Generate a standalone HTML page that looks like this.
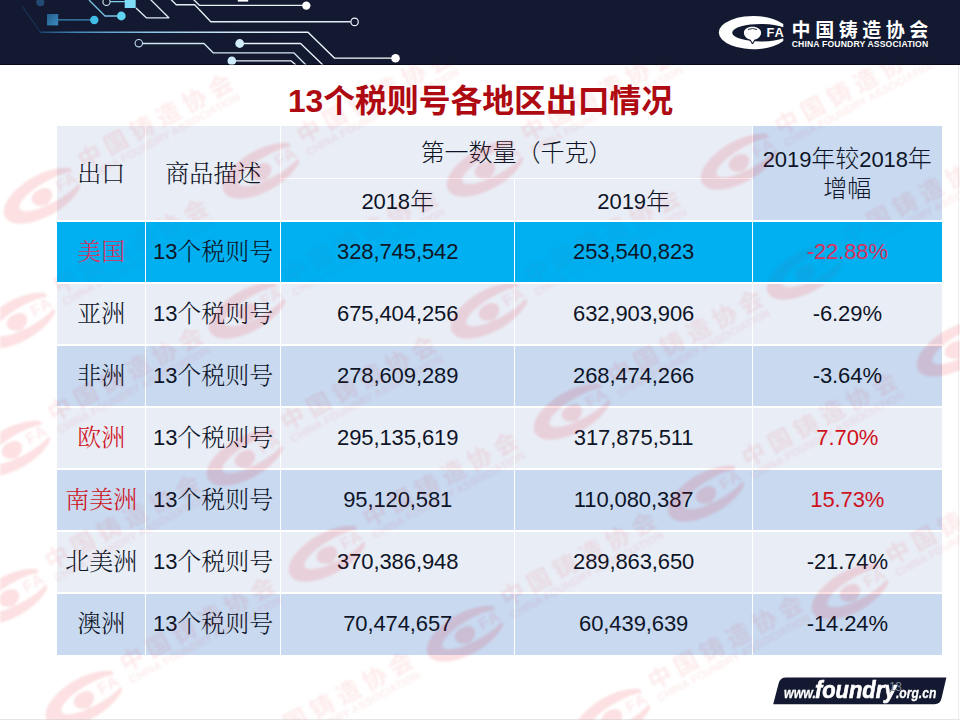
<!DOCTYPE html>
<html lang="zh-CN">
<head>
<meta charset="utf-8">
<title>13个税则号各地区出口情况</title>
<style>
html,body{margin:0;padding:0;}
body{width:960px;height:720px;overflow:hidden;background:#fff;position:relative;
  font-family:"Liberation Sans","Noto Sans CJK SC",sans-serif;}
#slide{position:absolute;left:0;top:0;width:960px;height:720px;overflow:hidden;background:#fff;}
#topbar{position:absolute;left:0;top:0;width:960px;height:64.5px;background:#121930;box-shadow:inset 0 -1px 0 #080c1e;}
#circuit{position:absolute;left:0;top:0;}
#logo{position:absolute;left:700px;top:0;}
#title{position:absolute;left:0.5px;top:78.5px;width:960px;text-align:center;font:bold 31.8px/44px "Liberation Sans","Noto Sans CJK SC",sans-serif;color:#ad0a12;white-space:nowrap;}
/* table */
#tbl,#tbl2{position:absolute;left:57px;top:126px;width:885px;height:529px;}
#tbl2{pointer-events:none;}
.hlo{background:rgba(0,176,240,.62);}
.c.red2{color:#d8325e;}
.c{position:absolute;box-sizing:border-box;display:flex;align-items:center;justify-content:center;text-align:center;
  font-size:24px;line-height:29px;color:#0e1528;white-space:nowrap;}
.h1{background:#e9edf6;}
.h2{background:#c8d9f0;}
.ra{background:#e9edf6;}
.rb{background:#c8d9f0;}
.hl{background:#00b0f0;}
.song{font-family:"Liberation Sans","Noto Serif CJK SC",serif;font-weight:300;}
.deng{font-family:"Liberation Sans","Noto Sans CJK SC",sans-serif;font-weight:300;}
.n{font-family:"Liberation Sans",sans-serif;font-size:22px;letter-spacing:-.1px;}
.c.red{color:#cf1220;}
.vl,.hline{position:absolute;background:#fff;}
#foot{position:absolute;}
.ft{position:absolute;color:#fff;font-family:"Liberation Sans",sans-serif;font-weight:bold;font-style:italic;white-space:nowrap;transform-origin:0 100%;}
#ft1{left:784px;top:683.5px;font-size:15.5px;line-height:18px;transform:scaleX(.80);-webkit-text-stroke:.3px #fff;}
#ft2{left:815px;top:675.5px;font-size:24px;line-height:28px;transform:scaleX(.91);-webkit-text-stroke:.7px #fff;}
#ft3{left:895.5px;top:683.5px;font-size:15.5px;line-height:18px;transform:scaleX(.78);-webkit-text-stroke:.3px #fff;}
#pg{position:absolute;left:889px;top:680px;font:12px/14px "Liberation Sans",sans-serif;color:#7e8591;letter-spacing:-.5px;}
#wm{position:absolute;left:0;top:0;pointer-events:none;filter:blur(.8px);}
#edgeR{position:absolute;left:957.5px;top:64.5px;width:1.2px;height:656px;background:#ededed;}
#edgeB{position:absolute;left:0;top:719px;width:960px;height:1px;background:#e6e6e6;}
</style>
</head>
<body>
<div id="slide">
  <div id="topbar"></div>
  <svg id="circuit" width="440" height="65" viewBox="0 0 440 65">
  <defs>
    <linearGradient id="gl" x1="0" y1="0" x2="1" y2="0">
      <stop offset="0" stop-color="#1c466f"/><stop offset="0.1" stop-color="#3f84b6"/><stop offset="0.3" stop-color="#86c2e4"/><stop offset="0.55" stop-color="#d2e9f6"/><stop offset="1" stop-color="#ffffff"/>
    </linearGradient>
    <linearGradient id="gs" x1="0" y1="0" x2="1" y2="1">
      <stop offset="0" stop-color="#245d8a"/><stop offset="1" stop-color="#3a8cc2"/>
    </linearGradient>
    <clipPath id="cc"><rect x="0" y="0" width="440" height="64.5"/></clipPath>
  </defs>
  <g clip-path="url(#cc)" fill="none" stroke-width="1.35" stroke-linejoin="round">
    <!-- faint left diagonal into long line -->
    <path d="M22 6 L40.5 32.3" stroke="#1b3b60" stroke-width="1"/>
    <path d="M40.5 32.3 H308 L334.4 58.1 H392" stroke="url(#gl)" stroke-width="1.4"/>
    <circle cx="395.5" cy="58.2" r="4.3" fill="#ffffff" stroke="none"/>
    <!-- dim circle -->
    <circle cx="40.3" cy="2.3" r="4" fill="#234a73" stroke="none"/>
    <!-- square + line + cyan circle -->
    <rect x="47" y="14" width="11.2" height="11.4" fill="url(#gs)" stroke="none"/>
    <path d="M58 19.8 H91" stroke="#3b8abf" stroke-width="1.2"/>
    <circle cx="94.3" cy="20" r="4.2" fill="#43bde8" stroke="none"/>
    <!-- cyan circle with trace up-left -->
    <path d="M118 16 H105 L89 0" stroke="#79c4e4"/>
    <circle cx="121.3" cy="16" r="4.4" fill="#5fd3f0" stroke="none"/>
    <!-- ring + line + light square -->
    <circle cx="106.5" cy="1.9" r="3.6" stroke="#d6ecf7" stroke-width="1.1"/>
    <path d="M110.3 1.6 H125" stroke="#7fd0ee"/>
    <rect x="124.7" y="-1" width="11" height="9" fill="#7edcf6" stroke="none"/>
    <!-- parallelogram outline -->
    <path d="M150 -1 L168.8 17.8 H146.3 L136 7.9" stroke="#dbe9f2"/>
    <!-- top traces -->
    <path d="M170.5 -1 L176.2 4.7 H194.7 L210.8 21.7 H350.6" stroke="#e3eef6"/>
    <circle cx="354.6" cy="21.9" r="3.7" stroke="#f2f7fb" stroke-width="1.2"/>
    <path d="M193 -1 L199.4 5.3 H303" stroke="#e6f0f7"/>
    <circle cx="306.3" cy="5.6" r="4.2" fill="#ffffff" stroke="none"/>
    <rect x="237.8" y="-1" width="10.4" height="2.6" fill="#ffffff" stroke="none"/>
    <!-- ring with trace -->
    <circle cx="138.8" cy="43.2" r="3.7" stroke="#bfe2f3" stroke-width="1.1"/>
    <path d="M142.6 43.5 H204 L213.4 52.9 H294 L306 65" stroke="#d3e8f4"/>
    <!-- pale circles with traces -->
    <path d="M243 43.5 H300.6 L323 65" stroke="#eaf3f9"/>
    <circle cx="239.7" cy="43.5" r="4.4" fill="#d3eefb" stroke="none"/>
    <path d="M235 60.9 H291.2 L296 65" stroke="#eaf3f9"/>
    <circle cx="231.8" cy="60.9" r="4.3" fill="#cdebfa" stroke="none"/>
  </g>
</svg>

  <svg id="logo" width="260" height="65" viewBox="700 0 260 65">
<g transform="translate(751 32.4)" fill="#fff">
<path fill-rule="evenodd" d="M32.3 -8.3 A34.7 16.6 0 1 0 32.3 8.7 Z M32.3 -5.2 A28.8 8.7 0 1 0 32.3 5.8 Z"/>
<path d="M1.5 10.6 L-0.4 7.4 C-4.6 6.3 -7.1 3.5 -7.1 0.3 C-7.1 -3.2 -3.4 -5.6 1.5 -5.6 C6.4 -5.6 10.1 -3.2 10.1 0.3 C10.1 3.5 7.6 6.3 3.4 7.4 Z" fill="#121930" stroke="#121930" stroke-width="2" stroke-linejoin="round"/>
<path d="M1.5 10.4 L-0.4 7.4 C-4.6 6.3 -7.1 3.5 -7.1 0.3 C-7.1 -3.2 -3.4 -5.6 1.5 -5.6 C6.4 -5.6 10.1 -3.2 10.1 0.3 C10.1 3.5 7.6 6.3 3.4 7.4 Z"/>
<path d="M-3 -2.9 Q1.5 -4.9 6 -2.9" fill="none" stroke="#121930" stroke-width="0.9"/>
<text x="15.4" y="4.1" font-family="Liberation Sans, sans-serif" font-weight="bold" font-size="12.8" letter-spacing="0.9">FA</text>
<text x="40.6" y="4.1" font-family="Liberation Sans, Noto Sans CJK SC, sans-serif" font-weight="bold" font-size="19" letter-spacing="4.55">中国铸造协会</text>
<text x="40.7" y="14.2" font-family="Liberation Sans, sans-serif" font-weight="bold" font-size="8.6" letter-spacing="0.17">CHINA FOUNDRY ASSOCIATION</text>
</g>
</svg>
  <div id="title">13个税则号各地区出口情况</div>
  <div id="tbl">
<div class="c h1 song" style="left:0px;top:0px;width:88.7px;height:95px;">出口</div>
<div class="c h1 song" style="left:88.7px;top:0px;width:135px;height:95px;">商品描述</div>
<div class="c h1 deng" style="left:223.7px;top:0px;width:471.9px;height:52.5px;">第一数量（千克）</div>
<div class="c h1 deng" style="left:223.7px;top:52.5px;width:234px;height:42.5px;padding-top:2.5px;"><span class="n">2018</span>年</div>
<div class="c h1 deng" style="left:457.7px;top:52.5px;width:237.9px;height:42.5px;padding-top:2.5px;"><span class="n">2019</span>年</div>
<div class="c h2 deng" style="left:695.6px;top:0px;width:189.4px;height:95px;"><span><span class="n">2019</span>年较<span class="n">2018</span>年<br>增幅</span></div>
<div class="c hl" style="left:0px;top:95px;width:885px;height:61.97px;"></div>
<div class="c ra song" style="left:0px;top:156.97px;width:88.7px;height:61.97px;">亚洲</div>
<div class="c ra song" style="left:88.7px;top:156.97px;width:135px;height:61.97px;"><span class="n">13</span>个税则号</div>
<div class="c ra" style="left:223.7px;top:156.97px;width:234px;height:61.97px;"><span class="n">675,404,256</span></div>
<div class="c ra" style="left:457.7px;top:156.97px;width:237.9px;height:61.97px;"><span class="n">632,903,906</span></div>
<div class="c ra" style="left:695.6px;top:156.97px;width:189.4px;height:61.97px;"><span class="n">-6.29%</span></div>
<div class="c rb song" style="left:0px;top:218.94px;width:88.7px;height:61.97px;">非洲</div>
<div class="c rb song" style="left:88.7px;top:218.94px;width:135px;height:61.97px;"><span class="n">13</span>个税则号</div>
<div class="c rb" style="left:223.7px;top:218.94px;width:234px;height:61.97px;"><span class="n">278,609,289</span></div>
<div class="c rb" style="left:457.7px;top:218.94px;width:237.9px;height:61.97px;"><span class="n">268,474,266</span></div>
<div class="c rb" style="left:695.6px;top:218.94px;width:189.4px;height:61.97px;"><span class="n">-3.64%</span></div>
<div class="c ra song red" style="left:0px;top:280.91px;width:88.7px;height:61.97px;">欧洲</div>
<div class="c ra song" style="left:88.7px;top:280.91px;width:135px;height:61.97px;"><span class="n">13</span>个税则号</div>
<div class="c ra" style="left:223.7px;top:280.91px;width:234px;height:61.97px;"><span class="n">295,135,619</span></div>
<div class="c ra" style="left:457.7px;top:280.91px;width:237.9px;height:61.97px;"><span class="n">317,875,511</span></div>
<div class="c ra red" style="left:695.6px;top:280.91px;width:189.4px;height:61.97px;"><span class="n">7.70%</span></div>
<div class="c rb song red" style="left:0px;top:342.88px;width:88.7px;height:61.97px;">南美洲</div>
<div class="c rb song" style="left:88.7px;top:342.88px;width:135px;height:61.97px;"><span class="n">13</span>个税则号</div>
<div class="c rb" style="left:223.7px;top:342.88px;width:234px;height:61.97px;"><span class="n">95,120,581</span></div>
<div class="c rb" style="left:457.7px;top:342.88px;width:237.9px;height:61.97px;"><span class="n">110,080,387</span></div>
<div class="c rb red" style="left:695.6px;top:342.88px;width:189.4px;height:61.97px;"><span class="n">15.73%</span></div>
<div class="c ra song" style="left:0px;top:404.85px;width:88.7px;height:61.97px;">北美洲</div>
<div class="c ra song" style="left:88.7px;top:404.85px;width:135px;height:61.97px;"><span class="n">13</span>个税则号</div>
<div class="c ra" style="left:223.7px;top:404.85px;width:234px;height:61.97px;"><span class="n">370,386,948</span></div>
<div class="c ra" style="left:457.7px;top:404.85px;width:237.9px;height:61.97px;"><span class="n">289,863,650</span></div>
<div class="c ra" style="left:695.6px;top:404.85px;width:189.4px;height:61.97px;"><span class="n">-21.74%</span></div>
<div class="c rb song" style="left:0px;top:466.82px;width:88.7px;height:61.97px;">澳洲</div>
<div class="c rb song" style="left:88.7px;top:466.82px;width:135px;height:61.97px;"><span class="n">13</span>个税则号</div>
<div class="c rb" style="left:223.7px;top:466.82px;width:234px;height:61.97px;"><span class="n">70,474,657</span></div>
<div class="c rb" style="left:457.7px;top:466.82px;width:237.9px;height:61.97px;"><span class="n">60,439,639</span></div>
<div class="c rb" style="left:695.6px;top:466.82px;width:189.4px;height:61.97px;"><span class="n">-14.24%</span></div>
<div class="vl" style="left:87.95px;top:0px;width:1.5px;height:528.79px"></div>
<div class="vl" style="left:222.95px;top:0px;width:1.5px;height:528.79px"></div>
<div class="vl" style="left:456.95px;top:52.5px;width:1.5px;height:476.29px"></div>
<div class="vl" style="left:694.85px;top:0px;width:1.5px;height:528.79px"></div>
<div class="hline" style="left:223.7px;top:51.75px;width:471.9px;height:1.5px"></div>
<div class="hline" style="left:0;top:94.25px;width:885px;height:1.5px"></div>
<div class="hline" style="left:0;top:156.22px;width:885px;height:1.5px"></div>
<div class="hline" style="left:0;top:218.19px;width:885px;height:1.5px"></div>
<div class="hline" style="left:0;top:280.16px;width:885px;height:1.5px"></div>
<div class="hline" style="left:0;top:342.13px;width:885px;height:1.5px"></div>
<div class="hline" style="left:0;top:404.1px;width:885px;height:1.5px"></div>
<div class="hline" style="left:0;top:466.07px;width:885px;height:1.5px"></div>
</div>
  <div id="edgeR"></div><div id="edgeB"></div>
  <svg id="foot" width="180" height="30" viewBox="770 676 180 30" style="left:770px;top:676px">
  <path d="M786 677.6 H946.4 L941.6 698 Q940.2 704.2 934.5 704.2 H773.2 L778.6 683.4 Q780.2 677.6 786 677.6 Z" fill="#121930"/>
</svg>
<div class="ft" id="ft1">www.</div>
<div class="ft" id="ft2">foundry</div>
<div class="ft" id="ft3">.org.cn</div>
<div id="pg">13</div>

  <svg id="wm" width="960" height="720" viewBox="0 0 960 720">
<defs><clipPath id="wmc"><rect x="0" y="64.5" width="960" height="655.5"/></clipPath></defs>
<g clip-path="url(#wmc)" fill="#e60012" fill-opacity="0.12">
<g transform="translate(7 598) rotate(-29.5) scale(1.25)">
<path fill-rule="evenodd" d="M32.3 -8.3 A34.7 16.6 0 1 0 32.3 8.7 Z M32.3 -5.2 A28.8 8.7 0 1 0 32.3 5.8 Z"/>
<path d="M1.5 8.6 L-0.4 7.4 C-4.6 6.3 -7.1 3.5 -7.1 0.3 C-7.1 -3.2 -3.4 -5.6 1.5 -5.6 C6.4 -5.6 10.1 -3.2 10.1 0.3 C10.1 3.5 7.6 6.3 3.4 7.4 Z"/>
<text x="15.4" y="4.1" font-family="Liberation Sans, sans-serif" font-weight="bold" font-size="12.8" letter-spacing="0.9" fill-opacity="0.085">FA</text>
</g>
<g transform="translate(7 598) rotate(-28.3) scale(1.26)">
<text x="40.6" y="-2.7" font-family="Liberation Sans, Noto Sans CJK SC, sans-serif" font-weight="bold" font-size="19" letter-spacing="4.55" fill-opacity="0.078">中国铸造协会</text>
<text x="40.7" y="7.4" font-family="Liberation Sans, sans-serif" font-weight="bold" font-size="8.6" letter-spacing="0.17" fill-opacity="0.078">CHINA FOUNDRY ASSOCIATION</text>
</g>
<g transform="translate(243 459) rotate(-29.5) scale(1.25)">
<path fill-rule="evenodd" d="M32.3 -8.3 A34.7 16.6 0 1 0 32.3 8.7 Z M32.3 -5.2 A28.8 8.7 0 1 0 32.3 5.8 Z"/>
<path d="M1.5 8.6 L-0.4 7.4 C-4.6 6.3 -7.1 3.5 -7.1 0.3 C-7.1 -3.2 -3.4 -5.6 1.5 -5.6 C6.4 -5.6 10.1 -3.2 10.1 0.3 C10.1 3.5 7.6 6.3 3.4 7.4 Z"/>
<text x="15.4" y="4.1" font-family="Liberation Sans, sans-serif" font-weight="bold" font-size="12.8" letter-spacing="0.9" fill-opacity="0.085">FA</text>
</g>
<g transform="translate(243 459) rotate(-28.3) scale(1.26)">
<text x="40.6" y="-2.7" font-family="Liberation Sans, Noto Sans CJK SC, sans-serif" font-weight="bold" font-size="19" letter-spacing="4.55" fill-opacity="0.078">中国铸造协会</text>
<text x="40.7" y="7.4" font-family="Liberation Sans, sans-serif" font-weight="bold" font-size="8.6" letter-spacing="0.17" fill-opacity="0.078">CHINA FOUNDRY ASSOCIATION</text>
</g>
<g transform="translate(487 312) rotate(-29.5) scale(1.25)">
<path fill-rule="evenodd" d="M32.3 -8.3 A34.7 16.6 0 1 0 32.3 8.7 Z M32.3 -5.2 A28.8 8.7 0 1 0 32.3 5.8 Z"/>
<path d="M1.5 8.6 L-0.4 7.4 C-4.6 6.3 -7.1 3.5 -7.1 0.3 C-7.1 -3.2 -3.4 -5.6 1.5 -5.6 C6.4 -5.6 10.1 -3.2 10.1 0.3 C10.1 3.5 7.6 6.3 3.4 7.4 Z"/>
<text x="15.4" y="4.1" font-family="Liberation Sans, sans-serif" font-weight="bold" font-size="12.8" letter-spacing="0.9" fill-opacity="0.085">FA</text>
</g>
<g transform="translate(487 312) rotate(-28.3) scale(1.26)">
<text x="40.6" y="-2.7" font-family="Liberation Sans, Noto Sans CJK SC, sans-serif" font-weight="bold" font-size="19" letter-spacing="4.55" fill-opacity="0.078">中国铸造协会</text>
<text x="40.7" y="7.4" font-family="Liberation Sans, sans-serif" font-weight="bold" font-size="8.6" letter-spacing="0.17" fill-opacity="0.078">CHINA FOUNDRY ASSOCIATION</text>
</g>
<g transform="translate(737 163) rotate(-29.5) scale(1.25)">
<path fill-rule="evenodd" d="M32.3 -8.3 A34.7 16.6 0 1 0 32.3 8.7 Z M32.3 -5.2 A28.8 8.7 0 1 0 32.3 5.8 Z"/>
<path d="M1.5 8.6 L-0.4 7.4 C-4.6 6.3 -7.1 3.5 -7.1 0.3 C-7.1 -3.2 -3.4 -5.6 1.5 -5.6 C6.4 -5.6 10.1 -3.2 10.1 0.3 C10.1 3.5 7.6 6.3 3.4 7.4 Z"/>
<text x="15.4" y="4.1" font-family="Liberation Sans, sans-serif" font-weight="bold" font-size="12.8" letter-spacing="0.9" fill-opacity="0.085">FA</text>
</g>
<g transform="translate(737 163) rotate(-28.3) scale(1.26)">
<text x="40.6" y="-2.7" font-family="Liberation Sans, Noto Sans CJK SC, sans-serif" font-weight="bold" font-size="19" letter-spacing="4.55" fill-opacity="0.078">中国铸造协会</text>
<text x="40.7" y="7.4" font-family="Liberation Sans, sans-serif" font-weight="bold" font-size="8.6" letter-spacing="0.17" fill-opacity="0.078">CHINA FOUNDRY ASSOCIATION</text>
</g>
<g transform="translate(10 450) rotate(-29.5) scale(1.25)">
<path fill-rule="evenodd" d="M32.3 -8.3 A34.7 16.6 0 1 0 32.3 8.7 Z M32.3 -5.2 A28.8 8.7 0 1 0 32.3 5.8 Z"/>
<path d="M1.5 8.6 L-0.4 7.4 C-4.6 6.3 -7.1 3.5 -7.1 0.3 C-7.1 -3.2 -3.4 -5.6 1.5 -5.6 C6.4 -5.6 10.1 -3.2 10.1 0.3 C10.1 3.5 7.6 6.3 3.4 7.4 Z"/>
<text x="15.4" y="4.1" font-family="Liberation Sans, sans-serif" font-weight="bold" font-size="12.8" letter-spacing="0.9" fill-opacity="0.085">FA</text>
</g>
<g transform="translate(10 450) rotate(-28.3) scale(1.26)">
<text x="40.6" y="-2.7" font-family="Liberation Sans, Noto Sans CJK SC, sans-serif" font-weight="bold" font-size="19" letter-spacing="4.55" fill-opacity="0.078">中国铸造协会</text>
<text x="40.7" y="7.4" font-family="Liberation Sans, sans-serif" font-weight="bold" font-size="8.6" letter-spacing="0.17" fill-opacity="0.078">CHINA FOUNDRY ASSOCIATION</text>
</g>
<g transform="translate(245 312) rotate(-29.5) scale(1.25)">
<path fill-rule="evenodd" d="M32.3 -8.3 A34.7 16.6 0 1 0 32.3 8.7 Z M32.3 -5.2 A28.8 8.7 0 1 0 32.3 5.8 Z"/>
<path d="M1.5 8.6 L-0.4 7.4 C-4.6 6.3 -7.1 3.5 -7.1 0.3 C-7.1 -3.2 -3.4 -5.6 1.5 -5.6 C6.4 -5.6 10.1 -3.2 10.1 0.3 C10.1 3.5 7.6 6.3 3.4 7.4 Z"/>
<text x="15.4" y="4.1" font-family="Liberation Sans, sans-serif" font-weight="bold" font-size="12.8" letter-spacing="0.9" fill-opacity="0.085">FA</text>
</g>
<g transform="translate(245 312) rotate(-28.3) scale(1.26)">
<text x="40.6" y="-2.7" font-family="Liberation Sans, Noto Sans CJK SC, sans-serif" font-weight="bold" font-size="19" letter-spacing="4.55" fill-opacity="0.078">中国铸造协会</text>
<text x="40.7" y="7.4" font-family="Liberation Sans, sans-serif" font-weight="bold" font-size="8.6" letter-spacing="0.17" fill-opacity="0.078">CHINA FOUNDRY ASSOCIATION</text>
</g>
<g transform="translate(483 170) rotate(-29.5) scale(1.25)">
<path fill-rule="evenodd" d="M32.3 -8.3 A34.7 16.6 0 1 0 32.3 8.7 Z M32.3 -5.2 A28.8 8.7 0 1 0 32.3 5.8 Z"/>
<path d="M1.5 8.6 L-0.4 7.4 C-4.6 6.3 -7.1 3.5 -7.1 0.3 C-7.1 -3.2 -3.4 -5.6 1.5 -5.6 C6.4 -5.6 10.1 -3.2 10.1 0.3 C10.1 3.5 7.6 6.3 3.4 7.4 Z"/>
<text x="15.4" y="4.1" font-family="Liberation Sans, sans-serif" font-weight="bold" font-size="12.8" letter-spacing="0.9" fill-opacity="0.085">FA</text>
</g>
<g transform="translate(483 170) rotate(-28.3) scale(1.26)">
<text x="40.6" y="-2.7" font-family="Liberation Sans, Noto Sans CJK SC, sans-serif" font-weight="bold" font-size="19" letter-spacing="4.55" fill-opacity="0.078">中国铸造协会</text>
<text x="40.7" y="7.4" font-family="Liberation Sans, sans-serif" font-weight="bold" font-size="8.6" letter-spacing="0.17" fill-opacity="0.078">CHINA FOUNDRY ASSOCIATION</text>
</g>
<g transform="translate(15 322) rotate(-29.5) scale(1.25)">
<path fill-rule="evenodd" d="M32.3 -8.3 A34.7 16.6 0 1 0 32.3 8.7 Z M32.3 -5.2 A28.8 8.7 0 1 0 32.3 5.8 Z"/>
<path d="M1.5 8.6 L-0.4 7.4 C-4.6 6.3 -7.1 3.5 -7.1 0.3 C-7.1 -3.2 -3.4 -5.6 1.5 -5.6 C6.4 -5.6 10.1 -3.2 10.1 0.3 C10.1 3.5 7.6 6.3 3.4 7.4 Z"/>
<text x="15.4" y="4.1" font-family="Liberation Sans, sans-serif" font-weight="bold" font-size="12.8" letter-spacing="0.9" fill-opacity="0.085">FA</text>
</g>
<g transform="translate(15 322) rotate(-28.3) scale(1.26)">
<text x="40.6" y="-2.7" font-family="Liberation Sans, Noto Sans CJK SC, sans-serif" font-weight="bold" font-size="19" letter-spacing="4.55" fill-opacity="0.078">中国铸造协会</text>
<text x="40.7" y="7.4" font-family="Liberation Sans, sans-serif" font-weight="bold" font-size="8.6" letter-spacing="0.17" fill-opacity="0.078">CHINA FOUNDRY ASSOCIATION</text>
</g>
<g transform="translate(259 172) rotate(-29.5) scale(1.25)">
<path fill-rule="evenodd" d="M32.3 -8.3 A34.7 16.6 0 1 0 32.3 8.7 Z M32.3 -5.2 A28.8 8.7 0 1 0 32.3 5.8 Z"/>
<path d="M1.5 8.6 L-0.4 7.4 C-4.6 6.3 -7.1 3.5 -7.1 0.3 C-7.1 -3.2 -3.4 -5.6 1.5 -5.6 C6.4 -5.6 10.1 -3.2 10.1 0.3 C10.1 3.5 7.6 6.3 3.4 7.4 Z"/>
<text x="15.4" y="4.1" font-family="Liberation Sans, sans-serif" font-weight="bold" font-size="12.8" letter-spacing="0.9" fill-opacity="0.085">FA</text>
</g>
<g transform="translate(259 172) rotate(-28.3) scale(1.26)">
<text x="40.6" y="-2.7" font-family="Liberation Sans, Noto Sans CJK SC, sans-serif" font-weight="bold" font-size="19" letter-spacing="4.55" fill-opacity="0.078">中国铸造协会</text>
<text x="40.7" y="7.4" font-family="Liberation Sans, sans-serif" font-weight="bold" font-size="8.6" letter-spacing="0.17" fill-opacity="0.078">CHINA FOUNDRY ASSOCIATION</text>
</g>
<g transform="translate(40 197) rotate(-29.5) scale(1.25)">
<path fill-rule="evenodd" d="M32.3 -8.3 A34.7 16.6 0 1 0 32.3 8.7 Z M32.3 -5.2 A28.8 8.7 0 1 0 32.3 5.8 Z"/>
<path d="M1.5 8.6 L-0.4 7.4 C-4.6 6.3 -7.1 3.5 -7.1 0.3 C-7.1 -3.2 -3.4 -5.6 1.5 -5.6 C6.4 -5.6 10.1 -3.2 10.1 0.3 C10.1 3.5 7.6 6.3 3.4 7.4 Z"/>
<text x="15.4" y="4.1" font-family="Liberation Sans, sans-serif" font-weight="bold" font-size="12.8" letter-spacing="0.9" fill-opacity="0.085">FA</text>
</g>
<g transform="translate(40 197) rotate(-28.3) scale(1.26)">
<text x="40.6" y="-2.7" font-family="Liberation Sans, Noto Sans CJK SC, sans-serif" font-weight="bold" font-size="19" letter-spacing="4.55" fill-opacity="0.078">中国铸造协会</text>
<text x="40.7" y="7.4" font-family="Liberation Sans, sans-serif" font-weight="bold" font-size="8.6" letter-spacing="0.17" fill-opacity="0.078">CHINA FOUNDRY ASSOCIATION</text>
</g>
<g transform="translate(82 700) rotate(-29.5) scale(1.25)">
<path fill-rule="evenodd" d="M32.3 -8.3 A34.7 16.6 0 1 0 32.3 8.7 Z M32.3 -5.2 A28.8 8.7 0 1 0 32.3 5.8 Z"/>
<path d="M1.5 8.6 L-0.4 7.4 C-4.6 6.3 -7.1 3.5 -7.1 0.3 C-7.1 -3.2 -3.4 -5.6 1.5 -5.6 C6.4 -5.6 10.1 -3.2 10.1 0.3 C10.1 3.5 7.6 6.3 3.4 7.4 Z"/>
<text x="15.4" y="4.1" font-family="Liberation Sans, sans-serif" font-weight="bold" font-size="12.8" letter-spacing="0.9" fill-opacity="0.085">FA</text>
</g>
<g transform="translate(82 700) rotate(-28.3) scale(1.26)">
<text x="40.6" y="-2.7" font-family="Liberation Sans, Noto Sans CJK SC, sans-serif" font-weight="bold" font-size="19" letter-spacing="4.55" fill-opacity="0.078">中国铸造协会</text>
<text x="40.7" y="7.4" font-family="Liberation Sans, sans-serif" font-weight="bold" font-size="8.6" letter-spacing="0.17" fill-opacity="0.078">CHINA FOUNDRY ASSOCIATION</text>
</g>
<g transform="translate(325 555) rotate(-29.5) scale(1.25)">
<path fill-rule="evenodd" d="M32.3 -8.3 A34.7 16.6 0 1 0 32.3 8.7 Z M32.3 -5.2 A28.8 8.7 0 1 0 32.3 5.8 Z"/>
<path d="M1.5 8.6 L-0.4 7.4 C-4.6 6.3 -7.1 3.5 -7.1 0.3 C-7.1 -3.2 -3.4 -5.6 1.5 -5.6 C6.4 -5.6 10.1 -3.2 10.1 0.3 C10.1 3.5 7.6 6.3 3.4 7.4 Z"/>
<text x="15.4" y="4.1" font-family="Liberation Sans, sans-serif" font-weight="bold" font-size="12.8" letter-spacing="0.9" fill-opacity="0.085">FA</text>
</g>
<g transform="translate(325 555) rotate(-28.3) scale(1.26)">
<text x="40.6" y="-2.7" font-family="Liberation Sans, Noto Sans CJK SC, sans-serif" font-weight="bold" font-size="19" letter-spacing="4.55" fill-opacity="0.078">中国铸造协会</text>
<text x="40.7" y="7.4" font-family="Liberation Sans, sans-serif" font-weight="bold" font-size="8.6" letter-spacing="0.17" fill-opacity="0.078">CHINA FOUNDRY ASSOCIATION</text>
</g>
<g transform="translate(570 413) rotate(-29.5) scale(1.25)">
<path fill-rule="evenodd" d="M32.3 -8.3 A34.7 16.6 0 1 0 32.3 8.7 Z M32.3 -5.2 A28.8 8.7 0 1 0 32.3 5.8 Z"/>
<path d="M1.5 8.6 L-0.4 7.4 C-4.6 6.3 -7.1 3.5 -7.1 0.3 C-7.1 -3.2 -3.4 -5.6 1.5 -5.6 C6.4 -5.6 10.1 -3.2 10.1 0.3 C10.1 3.5 7.6 6.3 3.4 7.4 Z"/>
<text x="15.4" y="4.1" font-family="Liberation Sans, sans-serif" font-weight="bold" font-size="12.8" letter-spacing="0.9" fill-opacity="0.085">FA</text>
</g>
<g transform="translate(570 413) rotate(-28.3) scale(1.26)">
<text x="40.6" y="-2.7" font-family="Liberation Sans, Noto Sans CJK SC, sans-serif" font-weight="bold" font-size="19" letter-spacing="4.55" fill-opacity="0.078">中国铸造协会</text>
<text x="40.7" y="7.4" font-family="Liberation Sans, sans-serif" font-weight="bold" font-size="8.6" letter-spacing="0.17" fill-opacity="0.078">CHINA FOUNDRY ASSOCIATION</text>
</g>
<g transform="translate(803 273) rotate(-29.5) scale(1.25)">
<path fill-rule="evenodd" d="M32.3 -8.3 A34.7 16.6 0 1 0 32.3 8.7 Z M32.3 -5.2 A28.8 8.7 0 1 0 32.3 5.8 Z"/>
<path d="M1.5 8.6 L-0.4 7.4 C-4.6 6.3 -7.1 3.5 -7.1 0.3 C-7.1 -3.2 -3.4 -5.6 1.5 -5.6 C6.4 -5.6 10.1 -3.2 10.1 0.3 C10.1 3.5 7.6 6.3 3.4 7.4 Z"/>
<text x="15.4" y="4.1" font-family="Liberation Sans, sans-serif" font-weight="bold" font-size="12.8" letter-spacing="0.9" fill-opacity="0.085">FA</text>
</g>
<g transform="translate(803 273) rotate(-28.3) scale(1.26)">
<text x="40.6" y="-2.7" font-family="Liberation Sans, Noto Sans CJK SC, sans-serif" font-weight="bold" font-size="19" letter-spacing="4.55" fill-opacity="0.078">中国铸造协会</text>
<text x="40.7" y="7.4" font-family="Liberation Sans, sans-serif" font-weight="bold" font-size="8.6" letter-spacing="0.17" fill-opacity="0.078">CHINA FOUNDRY ASSOCIATION</text>
</g>
<g transform="translate(220 775) rotate(-29.5) scale(1.25)">
<path fill-rule="evenodd" d="M32.3 -8.3 A34.7 16.6 0 1 0 32.3 8.7 Z M32.3 -5.2 A28.8 8.7 0 1 0 32.3 5.8 Z"/>
<path d="M1.5 8.6 L-0.4 7.4 C-4.6 6.3 -7.1 3.5 -7.1 0.3 C-7.1 -3.2 -3.4 -5.6 1.5 -5.6 C6.4 -5.6 10.1 -3.2 10.1 0.3 C10.1 3.5 7.6 6.3 3.4 7.4 Z"/>
<text x="15.4" y="4.1" font-family="Liberation Sans, sans-serif" font-weight="bold" font-size="12.8" letter-spacing="0.9" fill-opacity="0.085">FA</text>
</g>
<g transform="translate(220 775) rotate(-28.3) scale(1.26)">
<text x="40.6" y="-2.7" font-family="Liberation Sans, Noto Sans CJK SC, sans-serif" font-weight="bold" font-size="19" letter-spacing="4.55" fill-opacity="0.078">中国铸造协会</text>
<text x="40.7" y="7.4" font-family="Liberation Sans, sans-serif" font-weight="bold" font-size="8.6" letter-spacing="0.17" fill-opacity="0.078">CHINA FOUNDRY ASSOCIATION</text>
</g>
<g transform="translate(463 635) rotate(-29.5) scale(1.25)">
<path fill-rule="evenodd" d="M32.3 -8.3 A34.7 16.6 0 1 0 32.3 8.7 Z M32.3 -5.2 A28.8 8.7 0 1 0 32.3 5.8 Z"/>
<path d="M1.5 8.6 L-0.4 7.4 C-4.6 6.3 -7.1 3.5 -7.1 0.3 C-7.1 -3.2 -3.4 -5.6 1.5 -5.6 C6.4 -5.6 10.1 -3.2 10.1 0.3 C10.1 3.5 7.6 6.3 3.4 7.4 Z"/>
<text x="15.4" y="4.1" font-family="Liberation Sans, sans-serif" font-weight="bold" font-size="12.8" letter-spacing="0.9" fill-opacity="0.085">FA</text>
</g>
<g transform="translate(463 635) rotate(-28.3) scale(1.26)">
<text x="40.6" y="-2.7" font-family="Liberation Sans, Noto Sans CJK SC, sans-serif" font-weight="bold" font-size="19" letter-spacing="4.55" fill-opacity="0.078">中国铸造协会</text>
<text x="40.7" y="7.4" font-family="Liberation Sans, sans-serif" font-weight="bold" font-size="8.6" letter-spacing="0.17" fill-opacity="0.078">CHINA FOUNDRY ASSOCIATION</text>
</g>
<g transform="translate(704 495) rotate(-29.5) scale(1.25)">
<path fill-rule="evenodd" d="M32.3 -8.3 A34.7 16.6 0 1 0 32.3 8.7 Z M32.3 -5.2 A28.8 8.7 0 1 0 32.3 5.8 Z"/>
<path d="M1.5 8.6 L-0.4 7.4 C-4.6 6.3 -7.1 3.5 -7.1 0.3 C-7.1 -3.2 -3.4 -5.6 1.5 -5.6 C6.4 -5.6 10.1 -3.2 10.1 0.3 C10.1 3.5 7.6 6.3 3.4 7.4 Z"/>
<text x="15.4" y="4.1" font-family="Liberation Sans, sans-serif" font-weight="bold" font-size="12.8" letter-spacing="0.9" fill-opacity="0.085">FA</text>
</g>
<g transform="translate(704 495) rotate(-28.3) scale(1.26)">
<text x="40.6" y="-2.7" font-family="Liberation Sans, Noto Sans CJK SC, sans-serif" font-weight="bold" font-size="19" letter-spacing="4.55" fill-opacity="0.078">中国铸造协会</text>
<text x="40.7" y="7.4" font-family="Liberation Sans, sans-serif" font-weight="bold" font-size="8.6" letter-spacing="0.17" fill-opacity="0.078">CHINA FOUNDRY ASSOCIATION</text>
</g>
<g transform="translate(953 350) rotate(-29.5) scale(1.25)">
<path fill-rule="evenodd" d="M32.3 -8.3 A34.7 16.6 0 1 0 32.3 8.7 Z M32.3 -5.2 A28.8 8.7 0 1 0 32.3 5.8 Z"/>
<path d="M1.5 8.6 L-0.4 7.4 C-4.6 6.3 -7.1 3.5 -7.1 0.3 C-7.1 -3.2 -3.4 -5.6 1.5 -5.6 C6.4 -5.6 10.1 -3.2 10.1 0.3 C10.1 3.5 7.6 6.3 3.4 7.4 Z"/>
<text x="15.4" y="4.1" font-family="Liberation Sans, sans-serif" font-weight="bold" font-size="12.8" letter-spacing="0.9" fill-opacity="0.085">FA</text>
</g>
<g transform="translate(953 350) rotate(-28.3) scale(1.26)">
<text x="40.6" y="-2.7" font-family="Liberation Sans, Noto Sans CJK SC, sans-serif" font-weight="bold" font-size="19" letter-spacing="4.55" fill-opacity="0.078">中国铸造协会</text>
<text x="40.7" y="7.4" font-family="Liberation Sans, sans-serif" font-weight="bold" font-size="8.6" letter-spacing="0.17" fill-opacity="0.078">CHINA FOUNDRY ASSOCIATION</text>
</g>
<g transform="translate(610 718) rotate(-29.5) scale(1.25)">
<path fill-rule="evenodd" d="M32.3 -8.3 A34.7 16.6 0 1 0 32.3 8.7 Z M32.3 -5.2 A28.8 8.7 0 1 0 32.3 5.8 Z"/>
<path d="M1.5 8.6 L-0.4 7.4 C-4.6 6.3 -7.1 3.5 -7.1 0.3 C-7.1 -3.2 -3.4 -5.6 1.5 -5.6 C6.4 -5.6 10.1 -3.2 10.1 0.3 C10.1 3.5 7.6 6.3 3.4 7.4 Z"/>
<text x="15.4" y="4.1" font-family="Liberation Sans, sans-serif" font-weight="bold" font-size="12.8" letter-spacing="0.9" fill-opacity="0.085">FA</text>
</g>
<g transform="translate(610 718) rotate(-28.3) scale(1.26)">
<text x="40.6" y="-2.7" font-family="Liberation Sans, Noto Sans CJK SC, sans-serif" font-weight="bold" font-size="19" letter-spacing="4.55" fill-opacity="0.078">中国铸造协会</text>
<text x="40.7" y="7.4" font-family="Liberation Sans, sans-serif" font-weight="bold" font-size="8.6" letter-spacing="0.17" fill-opacity="0.078">CHINA FOUNDRY ASSOCIATION</text>
</g>
<g transform="translate(848 593) rotate(-29.5) scale(1.25)">
<path fill-rule="evenodd" d="M32.3 -8.3 A34.7 16.6 0 1 0 32.3 8.7 Z M32.3 -5.2 A28.8 8.7 0 1 0 32.3 5.8 Z"/>
<path d="M1.5 8.6 L-0.4 7.4 C-4.6 6.3 -7.1 3.5 -7.1 0.3 C-7.1 -3.2 -3.4 -5.6 1.5 -5.6 C6.4 -5.6 10.1 -3.2 10.1 0.3 C10.1 3.5 7.6 6.3 3.4 7.4 Z"/>
<text x="15.4" y="4.1" font-family="Liberation Sans, sans-serif" font-weight="bold" font-size="12.8" letter-spacing="0.9" fill-opacity="0.085">FA</text>
</g>
<g transform="translate(848 593) rotate(-28.3) scale(1.26)">
<text x="40.6" y="-2.7" font-family="Liberation Sans, Noto Sans CJK SC, sans-serif" font-weight="bold" font-size="19" letter-spacing="4.55" fill-opacity="0.078">中国铸造协会</text>
<text x="40.7" y="7.4" font-family="Liberation Sans, sans-serif" font-weight="bold" font-size="8.6" letter-spacing="0.17" fill-opacity="0.078">CHINA FOUNDRY ASSOCIATION</text>
</g>
</g></svg>
<div id="tbl2">
<div class="c hlo" style="left:0px;top:95px;width:885px;height:61.97px;"></div>
<div class="c song red2" style="left:0px;top:95px;width:88.7px;height:61.97px;">美国</div>
<div class="c song" style="left:88.7px;top:95px;width:135px;height:61.97px;"><span class="n">13</span>个税则号</div>
<div class="c " style="left:223.7px;top:95px;width:234px;height:61.97px;"><span class="n">328,745,542</span></div>
<div class="c " style="left:457.7px;top:95px;width:237.9px;height:61.97px;"><span class="n">253,540,823</span></div>
<div class="c red2" style="left:695.6px;top:95px;width:189.4px;height:61.97px;"><span class="n">-22.88%</span></div>
<div class="vl" style="left:87.95px;top:95px;width:1.5px;height:61.97px"></div>
<div class="vl" style="left:222.95px;top:95px;width:1.5px;height:61.97px"></div>
<div class="vl" style="left:456.95px;top:95px;width:1.5px;height:61.97px"></div>
<div class="vl" style="left:694.85px;top:95px;width:1.5px;height:61.97px"></div>
<div class="hline" style="left:0;top:94.25px;width:885px;height:1.5px"></div>
<div class="hline" style="left:0;top:156.22px;width:885px;height:1.5px"></div>
</div>
</div>
</body>
</html>
